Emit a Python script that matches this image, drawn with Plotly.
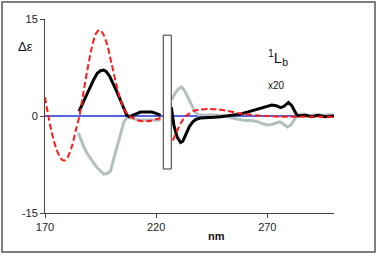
import plotly.graph_objects as go

# Red dashed (calculated) spectrum
red_x = [170, 171.5, 173, 175, 177, 178.5, 180, 182, 184, 185.5, 187, 189, 191, 193, 194.5, 196, 198, 200,
         202, 204, 206, 208, 210, 212, 214, 216, 218, 220, 222, None,
         227.5, 229, 231, 233, 235, 237, 240, 244, 248, 252, 256, 260, 265, 270, 275, 280, 285, 290, 295, 300]
red_y = [2.9, 0, -2.5, -5.0, -6.5, -6.9, -6.5, -4.8, -2.0, 0, 3.0, 7.0, 10.5, 12.8, 13.3, 12.8, 11.0, 8.0,
         5.0, 2.5, 0.8, 0, -0.4, -0.7, -0.8, -0.8, -0.7, -0.5, -0.3, None,
         -3.8, -2.6, -1.2, -0.1, 0.4, 0.8, 1.0, 1.1, 1.0, 0.8, 0.5, 0.3, 0.1, 0, -0.1, -0.1, -0.1, -0.1, -0.1, -0.1]

# Black experimental spectrum
black_x = [185.3, 186.5, 188, 190, 192, 193.5, 195, 196.3, 197.5, 199, 200.5, 202, 204, 205.5, 206.8, 208, 209.5,
           211, 213, 216, 218, 220, 221, 222, None,
           226.8, 228, 229.5, 231, 232, 233.5, 235, 236.5, 238, 240, 243, 246, 249, 252, 255, 258, 261, 264,
           267, 270, 272, 274, 276, 277.5, 279.5, 281, 283, 284, 287, 290, 293, 296, 300]
black_y = [0.7, 1.6, 2.8, 4.3, 5.7, 6.6, 7.0, 7.1, 6.9, 6.2, 5.2, 4.0, 2.4, 1.2, 0.1, -0.1, 0.1,
           0.4, 0.6, 0.6, 0.6, 0.4, 0.2, 0.1, None,
           1.4, -1.5, -3.3, -4.1, -3.9, -2.8, -1.6, -0.9, -0.5, -0.3, -0.3, -0.2, -0.1, 0.0, 0.1, 0.3, 0.6, 0.9,
           1.2, 1.5, 1.7, 1.6, 1.3, 1.5, 2.1, 1.6, 0.3, 0.0, 0.1, -0.1, 0.1, -0.1, 0.0]

# Gray experimental spectrum
gray_x = [185, 186, 187.5, 189, 191, 193, 195, 196.5, 198, 199.5, 201, 202.5, 204, 205.5, 207, 209, 212, 215,
          218, 220, 222, None,
          227, 228.5, 230, 231.5, 233, 234.5, 236, 237.5, 239, 242, 245, 248, 251, 254, 257, 260, 263, 266,
          268, 270, 272, 274, 275.5, 277, 279, 280.5, 282, 283.5, 286, 289, 292, 295, 298, 300]
gray_y = [-2.6, -3.5, -4.8, -5.8, -6.8, -7.8, -8.5, -9.0, -8.9, -8.5, -6.5, -4.5, -2.5, -0.9, -0.2, -0.3, -0.6, -0.6,
          -0.7, -0.6, -0.6, None,
          2.5, 3.5, 4.2, 4.5, 3.8, 2.8, 1.6, 0.6, 0.2, 0.1, 0.2, 0.1, 0.0, -0.3, -0.5, -0.7, -0.7, -0.9,
          -1.2, -1.4, -1.3, -1.0, -0.9, -1.2, -1.7, -1.4, -0.7, 0.1, 0.3, 0.1, 0.2, 0.1, 0.2, 0.1]

zero_x = [170, 300]
zero_y = [0, 0]

x_ticks = [170, 220, 270]
y_ticks = [-15, 0, 15]

# gap box (region not measured)
box_x = [223.2, 226.8]
box_y = [-8.2, 12.5]

fig = go.Figure()
fig.add_trace(go.Scatter(x=zero_x, y=zero_y, mode="lines", line=dict(color="#1f2fd6", width=1.3), hoverinfo="skip"))
fig.add_trace(go.Scatter(x=gray_x, y=gray_y, mode="lines", line=dict(color="#b3bfbf", width=3), connectgaps=False))
fig.add_trace(go.Scatter(x=black_x, y=black_y, mode="lines", line=dict(color="#000000", width=3), connectgaps=False))
fig.add_trace(go.Scatter(x=red_x, y=red_y, mode="lines", line=dict(color="#ff1a1a", width=2, dash="6px,3px", shape="spline", smoothing=0.8), connectgaps=False))

fig.add_shape(type="rect", xref="x", yref="y", x0=box_x[0], x1=box_x[1], y0=box_y[0], y1=box_y[1],
              line=dict(color="#333333", width=1), fillcolor="white", layer="above")
# outer frame
fig.add_shape(type="rect", xref="paper", yref="paper", x0=-0.1488, x1=1.1419, y0=-0.201, y1=1.0876,
              line=dict(color="#555555", width=1.5), fillcolor="rgba(0,0,0,0)")

font_family = "Liberation Sans, Arial, sans-serif"
fig.add_annotation(text="Δε", xref="paper", yref="paper", x=-0.069, y=0.856, showarrow=False,
                   xanchor="center", yanchor="middle", font=dict(family=font_family, size=13, color="#111"))
fig.add_annotation(text="<sup>1</sup>L<sub>b</sub>", xref="paper", yref="paper", x=0.806, y=0.80, showarrow=False,
                   xanchor="center", yanchor="middle", font=dict(family=font_family, size=15, color="#111"))
fig.add_annotation(text="x20", xref="paper", yref="paper", x=0.80, y=0.655, showarrow=False,
                   xanchor="center", yanchor="middle", font=dict(family=font_family, size=10, color="#111"))
fig.add_annotation(text="<b>nm</b>", xref="paper", yref="paper", x=0.592, y=-0.118, showarrow=False,
                   xanchor="center", yanchor="middle", font=dict(family=font_family, size=11, color="#111"))

fig.update_layout(
    width=378, height=255,
    margin=dict(l=45, r=44, t=19, b=42),
    paper_bgcolor="white", plot_bgcolor="white",
    showlegend=False,
    font=dict(family=font_family, size=11, color="#222"),
)
fig.update_xaxes(range=[170, 300], tickvals=x_ticks, ticktext=[str(v) for v in x_ticks],
                 showline=True, linecolor="#444", linewidth=1, ticks="outside", ticklen=4, tickcolor="#444",
                 showgrid=False, zeroline=False, fixedrange=True)
fig.update_yaxes(range=[-15, 15], tickvals=y_ticks, ticktext=[str(v) for v in y_ticks],
                 showline=True, linecolor="#444", linewidth=1, ticks="outside", ticklen=4, tickcolor="#444",
                 showgrid=False, zeroline=False, fixedrange=True)

fig.write_html("out.html", config={"displayModeBar": False},
               post_script="document.body.style.margin='0';document.body.style.overflow='hidden';")
